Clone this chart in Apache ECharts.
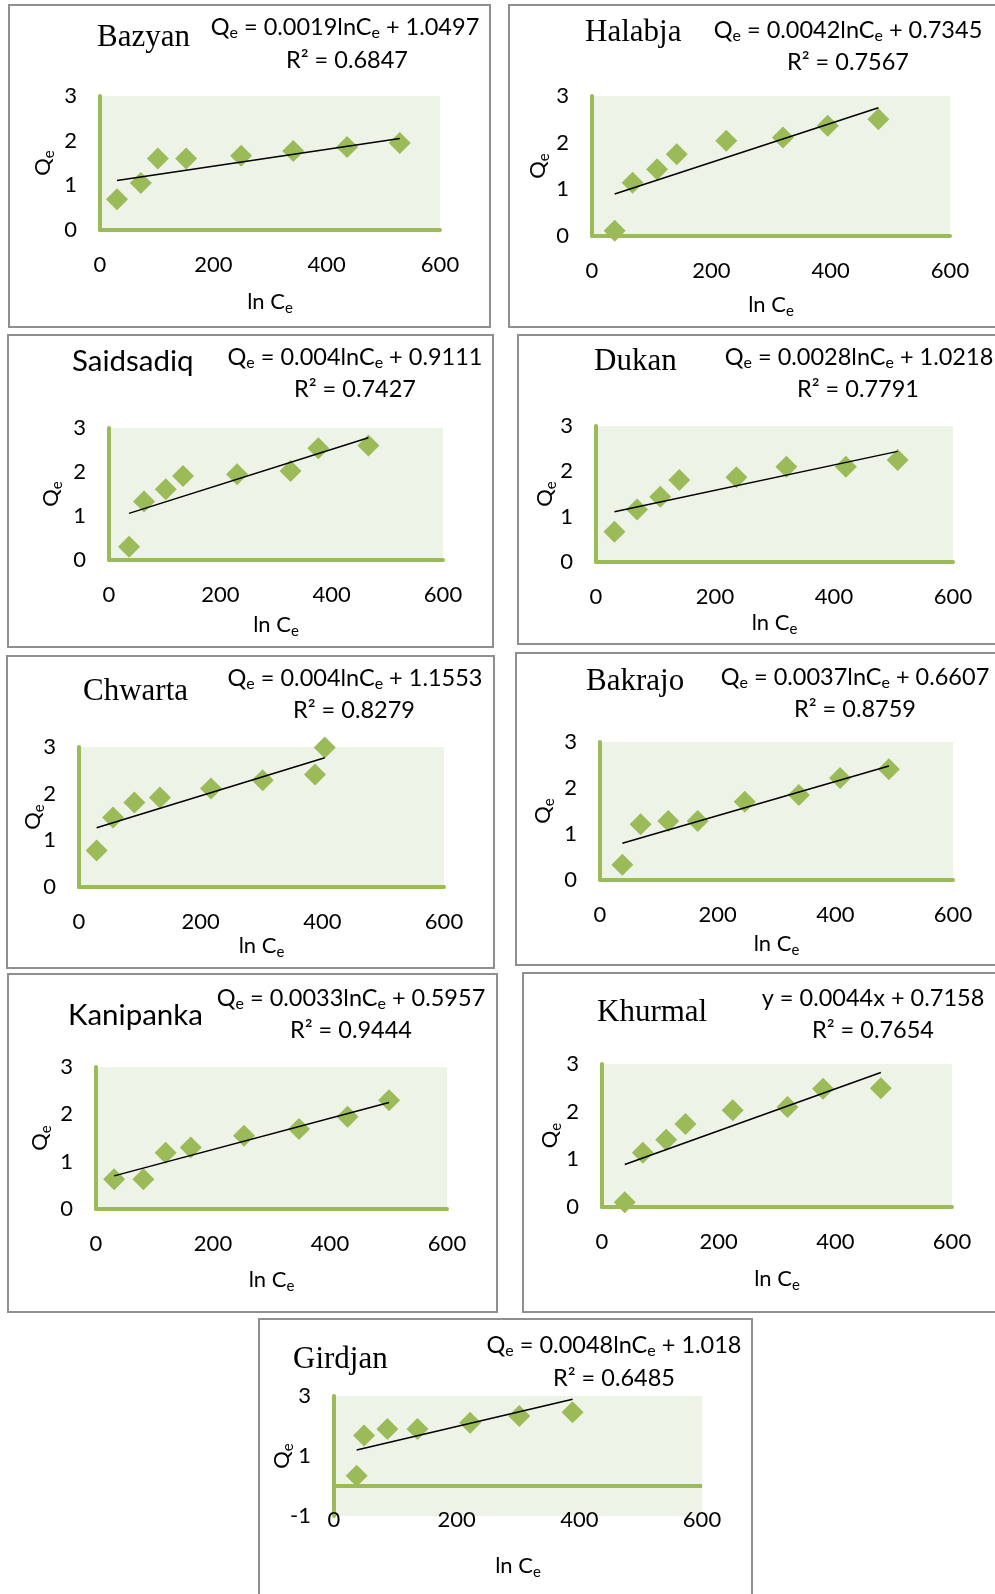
<!DOCTYPE html>
<html>
<head>
<meta charset="utf-8">
<script src="https://cdn.jsdelivr.net/npm/echarts@6/dist/echarts.min.js"></script>
<style>
  html, body { margin: 0; padding: 0; background: #fff; }
  #chart { width: 995px; height: 1594px; }
</style>
</head>
<body>
<div id="chart"></div>
<script>
// data
const sites = ["Bazyan", "Halabja", "Saidsadiq", "Dukan", "Chwarta", "Bakrajo", "Kanipanka", "Khurmal", "Girdjan"];
const lnCe = [
  [30, 72, 102, 152, 249, 341, 436, 529],
  [38, 68, 109, 142, 225, 320, 395, 480],
  [36, 63, 102, 133, 230, 326, 376, 466],
  [31, 69, 108, 140, 236, 320, 420, 507],
  [29, 56, 91, 133, 217, 302, 388, 404],
  [38, 69, 116, 166, 246, 338, 408, 491],
  [31, 81, 119, 162, 253, 347, 430, 501],
  [39, 70, 110, 143, 224, 318, 379, 478],
  [37, 49, 87, 136, 222, 302, 389],
];
const qe = [
  [0.69, 1.05, 1.60, 1.60, 1.66, 1.77, 1.86, 1.95],
  [0.11, 1.14, 1.43, 1.75, 2.04, 2.11, 2.36, 2.50],
  [0.30, 1.33, 1.61, 1.91, 1.95, 2.02, 2.54, 2.60],
  [0.67, 1.16, 1.44, 1.81, 1.87, 2.10, 2.10, 2.25],
  [0.78, 1.49, 1.81, 1.92, 2.11, 2.29, 2.41, 2.99],
  [0.33, 1.21, 1.28, 1.28, 1.70, 1.85, 2.22, 2.41],
  [0.63, 0.63, 1.19, 1.30, 1.55, 1.69, 1.95, 2.30],
  [0.10, 1.14, 1.41, 1.74, 2.03, 2.10, 2.48, 2.49],
  [0.34, 1.68, 1.90, 1.90, 2.11, 2.33, 2.46],
];
// trendline ends (first and last x)
const trendX = [[30, 529], [38, 480], [36, 466], [31, 507], [29, 404], [38, 491], [31, 501], [39, 478], [37, 389]];
const trendQ = [[1.11, 2.05], [0.90, 2.75], [1.06, 2.78], [1.11, 2.44], [1.27, 2.77], [0.80, 2.48], [0.70, 2.25], [0.89, 2.82], [1.20, 2.89]];
const equations = [
  "Q_e = 0.0019lnC_e + 1.0497",
  "Q_e = 0.0042lnC_e + 0.7345",
  "Q_e = 0.004lnC_e + 0.9111",
  "Q_e = 0.0028lnC_e + 1.0218",
  "Q_e = 0.004lnC_e + 1.1553",
  "Q_e = 0.0037lnC_e + 0.6607",
  "Q_e = 0.0033lnC_e + 0.5957",
  "y = 0.0044x + 0.7158",
  "Q_e = 0.0048lnC_e + 1.018",
];
const r2 = ["0.6847", "0.7567", "0.7427", "0.7791", "0.8279", "0.8759", "0.9444", "0.7654", "0.6485"];
const xTicks = [0, 200, 400, 600];
const yTicks = [0, 1, 2, 3];
const yTicksGirdjan = [-1, 1, 3];

// panel layout in page pixels
const layout = [
  { box: [9, 5, 490, 327], grid: [100, 96, 340, 134], title: [97, 38], eq: [345, 27], r2: [347, 60], xName: 75, yName: 60, serif: true },
  { box: [509, 5, 1000, 327], grid: [592, 96, 358, 140], title: [585, 33], eq: [848, 30], r2: [848, 62], xName: 72, yName: 57, serif: true },
  { box: [8, 335, 493, 647], grid: [109, 428, 334, 132], title: [72, 361], eq: [355, 357], r2: [355, 389], xName: 68, yName: 61, serif: false },
  { box: [518, 335, 1000, 644], grid: [596, 426, 357, 136], title: [594, 362], eq: [859, 357], r2: [858, 389], xName: 64, yName: 54, serif: true },
  { box: [7, 656, 494, 968], grid: [79, 747, 365, 140], title: [83, 692], eq: [355, 678], r2: [354, 710], xName: 62, yName: 49, serif: true },
  { box: [516, 653, 1000, 965], grid: [600, 742, 353, 138], title: [586, 682], eq: [855, 677], r2: [855, 709], xName: 67, yName: 60, serif: true },
  { box: [8, 974, 497, 1312], grid: [96, 1067, 351, 142], title: [68, 1015], eq: [351, 998], r2: [351, 1030], xName: 74, yName: 59, serif: false },
  { box: [523, 973, 1000, 1312], grid: [602, 1064, 350, 143], title: [597, 1013], eq: [873, 998], r2: [873, 1030], xName: 75, yName: 55, serif: true },
  { box: [259, 1319, 752, 1600], grid: [334, 1396, 368, 120], title: [293, 1360], eq: [614, 1345], r2: [614, 1378], xName: 53, yName: 55, serif: true, xLab: -7 },
];

const GREEN = "#9BBB59";
const PLOT_BG = "#EEF3E8";
const SANS = "Lato, 'Open Sans', sans-serif";
const SERIF = "'Liberation Serif', serif";
const subStyle = { fontSize: 15, fontFamily: SANS, color: "#000", lineHeight: 15, padding: [12, 0, 0, 0] };
const subFill = { fontSize: 16, fontFamily: SANS, fill: "#000", lineHeight: 16, padding: [12, 0, 0, 0] };

function richEq(s) {
  return s.split("_e").join("{s|e}");
}

const chart = echarts.init(document.getElementById("chart"));

const grids = [], xAxes = [], yAxes = [], series = [], graphics = [];

layout.forEach((L, i) => {
  const last = i === 8;
  grids.push({
    left: L.grid[0], top: L.grid[1], width: L.grid[2], height: L.grid[3],
    show: true, backgroundColor: PLOT_BG, borderWidth: 0, outerBoundsMode: "none",
  });
  xAxes.push({
    gridIndex: i, type: "value",
    min: xTicks[0], max: xTicks[xTicks.length - 1], interval: xTicks[1] - xTicks[0],
    name: "ln C{s|e}", nameLocation: "middle", nameGap: L.xName - 14, nameMoveOverlap: false,
    nameTextStyle: { fontSize: 22, fontFamily: SANS, color: "#000", rich: { s: subStyle } },
    axisLine: { show: !last, onZero: false, lineStyle: { color: GREEN, width: 4 } },
    axisTick: { show: false },
    splitLine: { show: false },
    axisLabel: { margin: L.xLab !== undefined ? L.xLab : 24, fontSize: 22, fontFamily: SANS, color: "#000", showMinLabel: true, showMaxLabel: true },
  });
  const yTk = last ? yTicksGirdjan : yTicks;
  yAxes.push({
    gridIndex: i, type: "value",
    min: yTk[0], max: yTk[yTk.length - 1],
    interval: last ? undefined : yTk[1] - yTk[0],
    name: "Q{s|e}", nameLocation: "middle", nameRotate: 90, nameGap: L.yName - 14, nameMoveOverlap: false,
    nameTextStyle: { fontSize: 22, fontFamily: SANS, color: "#000", rich: { s: subStyle } },
    axisLine: { show: true, onZero: false, lineStyle: { color: GREEN, width: 4 } },
    axisTick: { show: false },
    splitLine: { show: false },
    axisLabel: Object.assign(
      { margin: 23, fontSize: 22, fontFamily: SANS, color: "#000", showMinLabel: true, showMaxLabel: true },
      last ? { customValues: yTicksGirdjan } : {}
    ),
  });
  const pts = lnCe[i].map((x, k) => [x, qe[i][k]]);
  const sc = {
    type: "scatter", xAxisIndex: i, yAxisIndex: i,
    symbol: "diamond", symbolSize: 22, data: pts,
    itemStyle: { color: GREEN, opacity: 1 }, z: 3,
  };
  if (last) {
    sc.markLine = {
      silent: true, symbol: "none", label: { show: false },
      lineStyle: { color: GREEN, width: 4, type: "solid" },
      data: [{ yAxis: 0 }],
    };
  }
  series.push(sc);
  series.push({
    type: "line", xAxisIndex: i, yAxisIndex: i, symbol: "none", silent: true,
    data: [[trendX[i][0], trendQ[i][0]], [trendX[i][1], trendQ[i][1]]],
    lineStyle: { color: "#000", width: 1.5 }, z: 4,
  });

  // frame, title, equation
  graphics.push({
    type: "rect", silent: true, z: 0,
    shape: { x: L.box[0], y: L.box[1], width: L.box[2] - L.box[0], height: L.box[3] - L.box[1] },
    style: { fill: "none", stroke: "#8f8f8f", lineWidth: 2 },
  });
  graphics.push({
    type: "text", silent: true, z: 10,
    style: {
      x: L.title[0], y: L.title[1], text: sites[i],
      fontSize: L.serif ? 31 : 29.5, fontFamily: L.serif ? SERIF : SANS, fill: "#000",
      align: "left", verticalAlign: "middle", textAlign: "left", textVerticalAlign: "middle",
    },
  });
  graphics.push({
    type: "text", silent: true, z: 10,
    style: {
      x: L.eq[0], y: L.eq[1], text: richEq(equations[i]),
      fontSize: 23.5, fontFamily: SANS, fill: "#000", lineHeight: 27,
      align: "center", verticalAlign: "middle", textAlign: "center", textVerticalAlign: "middle",
      rich: { s: subFill },
    },
  });
  graphics.push({
    type: "text", silent: true, z: 10,
    style: {
      x: L.r2[0], y: L.r2[1], text: "R\u00B2 = " + r2[i],
      fontSize: 23.5, fontFamily: SANS, fill: "#000",
      align: "center", verticalAlign: "middle", textAlign: "center", textVerticalAlign: "middle",
    },
  });
});

chart.setOption({
  animation: false,
  backgroundColor: "#fff",
  grid: grids,
  xAxis: xAxes,
  yAxis: yAxes,
  series: series,
  graphic: graphics,
});
</script>
</body>
</html>
